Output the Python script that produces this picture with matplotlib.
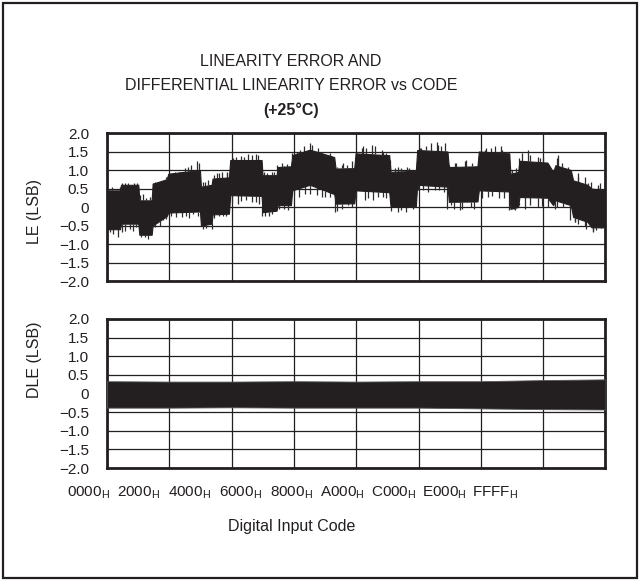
import numpy as np
import matplotlib
matplotlib.use("Agg")
import matplotlib.pyplot as plt
from matplotlib.patches import Rectangle

FAM = ['Liberation Sans', 'DejaVu Sans']
plt.rcParams['font.family'] = FAM
plt.rcParams['mathtext.fontset'] = 'custom'
plt.rcParams['mathtext.rm'] = FAM[0]

# ---- data ----
# dense core of the LE trace: breakpoints (code, upper, lower)
le_codes = [0, 1708, 1840, 4117, 4250, 5870, 6000, 7840, 8060, 12220,
            12350, 13750, 13880, 16030, 16200, 20320, 20450, 22290, 22420, 24180,
            24350, 26670, 29870, 30050, 32500, 32680, 37100, 37280, 40600, 40780,
            44760, 44940, 48700, 48880, 52870, 53040, 54050, 54220, 57900, 58650,
            58950, 60970, 61280, 63160, 63690, 65535]
le_upper = [0.45, 0.45, 0.60, 0.60, 0.18, 0.18, 0.63, 0.75, 0.90, 1.00,
            0.55, 0.60, 0.77, 0.80, 1.27, 1.27, 0.86, 0.86, 1.08, 1.10,
            1.40, 1.55, 1.35, 1.04, 1.05, 1.45, 1.40, 0.95, 0.98, 1.54,
            1.50, 1.08, 1.10, 1.50, 1.45, 0.90, 0.95, 1.25, 1.20, 0.95,
            1.13, 1.00, 0.72, 0.60, 0.50, 0.45]
le_lower = [-0.60, -0.60, -0.45, -0.45, -0.75, -0.75, -0.50, -0.25, -0.15, -0.12,
            -0.50, -0.45, -0.20, -0.18, 0.32, 0.30, -0.14, -0.10, 0.05, 0.05,
            0.45, 0.60, 0.35, 0.09, 0.10, 0.45, 0.40, 0.00, 0.02, 0.60,
            0.55, 0.14, 0.15, 0.45, 0.42, -0.05, 0.00, 0.27, 0.25, 0.05,
            0.18, 0.05, -0.27, -0.40, -0.55, -0.55]

# individual noise spikes beyond the core (code, peak value)
le_spike_hi_codes = [613, 2365, 3898, 6307, 8497, 10249, 11782, 12877, 14410, 15724,
                     16600, 18571, 19885, 21637, 22951, 24922, 26674, 27769, 29083, 30835,
                     32149, 33463, 34777, 36091, 37843, 39376, 41128, 43318, 44413, 45727,
                     47041, 49669, 51859, 52516, 53830, 55363, 56677, 59305, 60619, 61933,
                     62809, 64561,
                     174, 1044, 1697, 2001, 2784, 3219, 3567, 4307, 4742, 5177, 5612,
                     6047, 6699, 7352, 7787, 8874, 9527, 10614, 11049, 12137, 12572, 13224,
                     14094, 14747, 15182, 15834, 16922, 17574, 18009, 19097, 19532,
                     20619, 21054, 21924, 22359, 23229, 23664,
                     24317, 25404, 25839, 26927, 28232, 29319, 30189, 31059, 31494,
                     32799, 33669, 34104, 35192, 36279, 36714, 37149, 38237, 38672, 39759,
                     41282, 41934, 42587, 43457, 43892, 44979, 45849, 47154, 48024,
                     48894, 49764, 50417, 51069, 51939, 52809, 53244,
                     54114, 54549, 55637, 56942, 57377, 58029, 59117, 59769,
                     61074, 61944, 63249, 63684, 64554, 64859]
le_spike_hi_vals = [0.55, 0.65, 0.64, 0.68, 0.91, 1.05, 1.23, 0.68, 0.91, 0.95,
                    1.32, 1.44, 1.41, 0.95, 1.18, 1.50, 1.73, 1.59, 1.41, 1.14,
                    1.23, 1.59, 1.68, 1.55, 1.05, 1.09, 1.59, 1.77, 1.73, 1.18,
                    1.23, 1.55, 1.64, 1.45, 1.05, 1.55, 1.36, 1.41, 1.09, 0.91,
                    0.82, 0.59,
                    0.50, 0.45, 0.55, 0.64, 0.64, 0.59, 0.65, 0.32, 0.36, 0.23, 0.27,
                    0.64, 0.65, 0.73, 0.82, 0.95, 0.91, 1.09, 1.14, 1.18, 0.68, 0.73,
                    0.86, 0.91, 0.95, 0.91, 1.36, 1.38, 1.36, 1.41, 1.44,
                    0.95, 0.91, 0.95, 1.14, 1.11, 1.16,
                    1.45, 1.55, 1.64, 1.68, 1.50, 1.45, 1.09, 1.18, 1.14,
                    1.50, 1.64, 1.59, 1.64, 1.50, 1.45, 1.00, 1.09, 1.05, 1.05,
                    1.59, 1.64, 1.73, 1.68, 1.64, 1.14, 1.18, 1.27, 1.18,
                    1.50, 1.59, 1.59, 1.64, 1.55, 0.95, 1.00,
                    1.32, 1.45, 1.41, 1.32, 1.36, 1.05, 1.32, 1.18,
                    0.91, 0.82, 0.64, 0.68, 0.55, 0.64]
le_spike_lo_codes = [1489, 3022, 5431, 6964, 9811, 11344, 13753, 15286, 17257, 19009,
                     20761, 23827, 26017, 28207, 29959, 31711, 33901, 35653, 38281, 40033,
                     43099, 45289, 46384, 47917, 50107, 53611, 56677, 58867, 61495, 62809,
                     63904, 65000,
                     392, 827, 1914, 2349, 3437, 3872, 4524, 4959, 5742,
                     6264, 7352, 7787, 8439, 9092, 10397, 10832, 11919, 12572, 13007,
                     14094, 14747, 15617, 16487, 17574, 18227, 19532, 19967,
                     20402, 21272, 21707, 22577, 23229,
                     24534, 25187, 26709, 27579, 28667, 29319, 30189, 30842, 32147,
                     32799, 34322, 34974, 36279, 36714, 37367, 38672, 39324, 40194,
                     40847, 41499, 42152, 43674, 44327, 44762, 45632, 46719, 48242,
                     48677, 49329, 50634, 51504, 52157, 52809, 53462,
                     54114, 54984, 55637, 57159, 58029, 59117, 59987,
                     60857, 61509, 61944, 63032, 63902, 64337, 64902]
le_spike_lo_vals = [-0.82, -0.59, -0.86, -0.50, -0.27, -0.18, -0.59, -0.23, 0.09, 0.14,
                    -0.23, -0.09, 0.36, 0.27, -0.14, 0.05, 0.18, 0.27, -0.14, 0.00,
                    0.45, 0.05, -0.09, 0.00, 0.27, -0.09, 0.00, -0.05, -0.41, -0.50,
                    -0.68, -0.55,
                    -0.68, -0.73, -0.68, -0.64, -0.64, -0.55, -0.82, -0.82, -0.77,
                    -0.55, -0.36, -0.32, -0.23, -0.27, -0.23, -0.29, -0.25, -0.59, -0.56,
                    -0.29, -0.25, -0.23, 0.14, 0.16, 0.20, 0.14, 0.09,
                    -0.23, -0.25, -0.20, -0.05, -0.05,
                    0.32, 0.27, 0.36, 0.32, 0.27, 0.27, -0.11, -0.05, 0.00,
                    0.23, 0.23, 0.20, 0.27, 0.23, -0.11, -0.09, -0.14, -0.05,
                    0.45, 0.45, 0.41, 0.45, 0.41, -0.05, -0.05, -0.05, -0.05,
                    0.27, 0.25, 0.29, 0.25, 0.23, -0.09, -0.05,
                    0.05, -0.05, 0.05, 0.02, 0.00, 0.00, 0.00,
                    -0.36, -0.41, -0.45, -0.59, -0.64, -0.62, -0.56]

dle_codes = [0x0000, 0x2000, 0x4000, 0x6000, 0x8000, 0xA000, 0xC000, 0xE000, 0xFFFF]
dle_upper = [0.33, 0.32, 0.32, 0.33, 0.32, 0.33, 0.33, 0.36, 0.38]
dle_lower = [-0.38, -0.38, -0.37, -0.38, -0.38, -0.38, -0.40, -0.42, -0.43]

x_tick_codes = [0x0000, 0x2000, 0x4000, 0x6000, 0x8000, 0xA000, 0xC000, 0xE000, 0xFFFF]
x_tick_labels = ["0000", "2000", "4000", "6000", "8000", "A000", "C000", "E000", "FFFF"]
y_ticks = [2.0, 1.5, 1.0, 0.5, 0.0, -0.5, -1.0, -1.5, -2.0]
y_tick_labels = ["2.0", "1.5", "1.0", "0.5", "0", "\u22120.5", "\u22121.0", "\u22121.5", "\u22122.0"]

title_lines = ["LINEARITY ERROR AND", "DIFFERENTIAL LINEARITY ERROR vs CODE", "(+25\u00b0C)"]

# ---- figure ----
W, H = 642, 581
fig = plt.figure(figsize=(W / 100, H / 100), dpi=100)
INK = '#231f20'
SPIKE = '#2e2b2c'

def px_rect(l, t, r, b):
    return [l / W, 1 - b / H, (r - l) / W, (b - t) / H]

fig.patches.append(Rectangle((3 / W, 3 / H), 634 / W, 575 / H, transform=fig.transFigure,
                             fill=False, edgecolor=INK, linewidth=1.6))

fs_title = 11.5
fig.text(291 / W, 1 - 62 / H, title_lines[0], ha='center', va='center', fontsize=fs_title, color=INK)
fig.text(291 / W, 1 - 86 / H, title_lines[1], ha='center', va='center', fontsize=fs_title, color=INK)
fig.text(291 / W, 1 - 110 / H, title_lines[2], ha='center', va='center', fontsize=fs_title,
         color=INK, fontweight='bold')

def setup(ax):
    ax.set_xlim(0, 65535)
    ax.set_ylim(-2.0, 2.0)
    ax.set_xticks(x_tick_codes)
    ax.set_yticks(y_ticks)
    ax.set_yticklabels(y_tick_labels)
    ax.set_xticklabels([])
    ax.tick_params(axis='both', length=0, labelsize=11, colors=INK, pad=13)
    ax.grid(True, color=INK, linewidth=0.9)
    ax.set_axisbelow(True)
    for s in ax.spines.values():
        s.set_linewidth(2.0)
        s.set_color(INK)

ax1 = fig.add_axes(px_rect(107, 133, 605.5, 281))
setup(ax1)
ax1.fill_between(le_codes, le_lower, le_upper, color=INK, linewidth=0.8, edgecolor=INK, zorder=3)
hi_base = np.interp(le_spike_hi_codes, le_codes, le_upper)
lo_base = np.interp(le_spike_lo_codes, le_codes, le_lower)
ax1.vlines(le_spike_hi_codes, hi_base, le_spike_hi_vals, color=SPIKE, linewidth=0.9, zorder=2.9)
ax1.vlines(le_spike_lo_codes, le_spike_lo_vals, lo_base, color=SPIKE, linewidth=0.9, zorder=2.9)

ax2 = fig.add_axes(px_rect(107, 319, 605.5, 468))
setup(ax2)
ax2.fill_between(dle_codes, dle_lower, dle_upper, color=INK, linewidth=0.6, edgecolor='#555555', zorder=3)

fig.text(35 / W, 1 - 211 / H, "LE (LSB)", rotation=90, ha='center', va='center', fontsize=11.5, color=INK)
fig.text(35 / W, 1 - 360 / H, "DLE (LSB)", rotation=90, ha='center', va='center', fontsize=11.5, color=INK)

# x tick labels (evenly spaced row under the lower panel)
axl = fig.add_axes(px_rect(88, 483, 495, 484))
axl.set_xlim(0, 65535)
axl.set_xticks(x_tick_codes)
axl.set_xticklabels([t + r"$_\mathregular{H}$" for t in x_tick_labels])
axl.tick_params(axis='x', length=0, labelsize=11, colors=INK, pad=0)
axl.set_yticks([])
for s in axl.spines.values():
    s.set_visible(False)
axl.patch.set_visible(False)

fig.text(292 / W, 1 - 527 / H, "Digital Input Code", ha='center', va='center', fontsize=11.5, color=INK)

fig.savefig("out.png", dpi=100)
